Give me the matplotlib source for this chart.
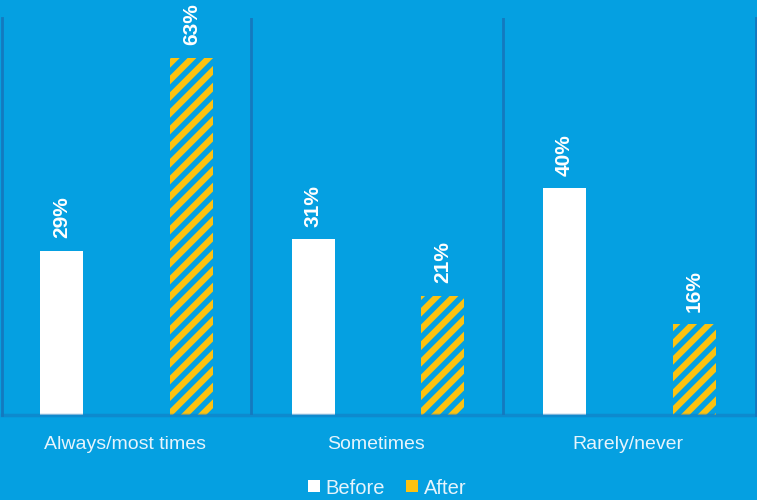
import matplotlib
matplotlib.use("Agg")
import matplotlib.pyplot as plt
import numpy as np
from matplotlib.lines import Line2D

categories = ["Always/most times", "Sometimes", "Rarely/never"]
before = [29, 31, 40]
after = [63, 21, 16]
series_names = ["Before", "After"]

BG = "#05a0e1"
LINE = "#1479bf"
YELLOW = "#fdc210"
WHITE = "#ffffff"

plt.rcParams["font.family"] = ["Liberation Sans", "DejaVu Sans"]
plt.rcParams["hatch.linewidth"] = 4.5

fig = plt.figure(figsize=(7.57, 5.0), dpi=100, facecolor=BG)
ax = fig.add_axes([2 / 757, 85 / 500, 754 / 757, 397 / 500])
ax.set_facecolor(BG)

x = np.arange(len(categories)) - 0.01
w = 0.17

b1 = ax.bar(x - 0.252, before, w, color=WHITE, linewidth=0, zorder=2)
b2 = ax.bar(x + 0.264, after, w, facecolor=BG, edgecolor=YELLOW, hatch="//",
            linewidth=0, zorder=2)

for rects, vals in ((b1, before), (b2, after)):
    for r, v in zip(rects, vals):
        ax.annotate(f"{v}%", (r.get_x() + r.get_width() / 2, r.get_height()),
                    xytext=(0, 9), textcoords="offset points",
                    rotation=90, ha="center", va="bottom",
                    color=WHITE, fontsize=15, fontweight="bold")

ax.set_xlim(-0.5, len(categories) - 0.5)
ax.set_ylim(0, 70)

# group dividers
for xv in np.arange(len(categories) - 1) + 0.5:
    ax.axvline(xv - 0.008, color=LINE, lw=2, zorder=1)

ax.spines["top"].set_visible(False)
for s in ("left", "right"):
    ax.spines[s].set_color(LINE)
    ax.spines[s].set_linewidth(2)
ax.spines["bottom"].set_color(LINE)
ax.spines["bottom"].set_linewidth(2.5)
ax.spines["bottom"].set_alpha(0.55)
ax.spines["bottom"].set_zorder(5)

ax.set_yticks([])
ax.set_xticks(x)
ax.set_xticklabels(categories, fontsize=14, color="#e6f4fc")
ax.tick_params(axis="x", length=0, pad=15)

handles = [
    Line2D([], [], marker="s", linestyle="none", markersize=9,
           markerfacecolor=WHITE, markeredgewidth=0),
    Line2D([], [], marker="s", linestyle="none", markersize=9,
           markerfacecolor=YELLOW, markeredgewidth=0),
]
fig.legend(handles, series_names, loc="center",
           bbox_to_anchor=(387 / 757, 12 / 500), ncol=2, frameon=False,
           fontsize=14.5, handlelength=0.6, handletextpad=0.3,
           columnspacing=1.0, labelcolor="#e6f4fc")

fig.savefig("out.png", dpi=100, facecolor=BG)
